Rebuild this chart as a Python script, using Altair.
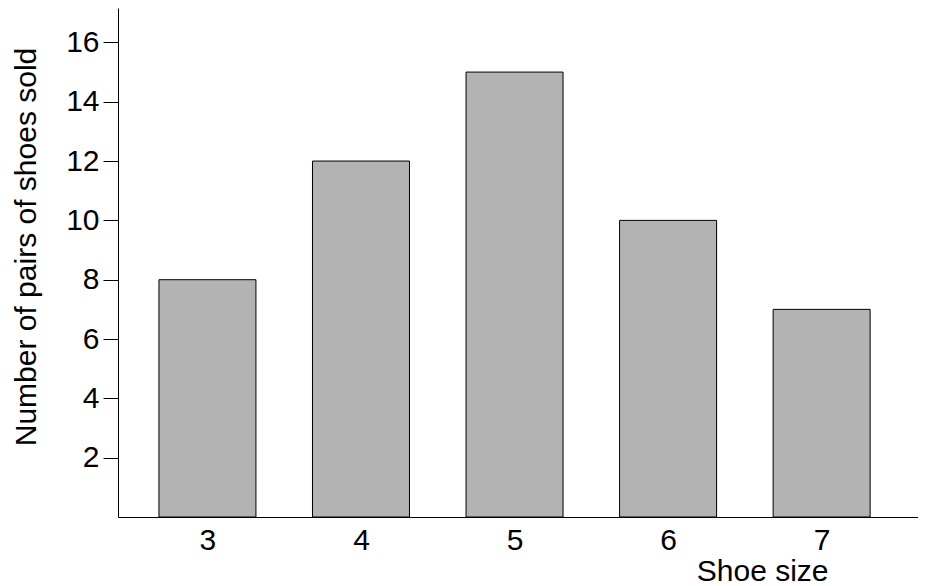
import altair as alt
import pandas as pd

sizes = [3, 4, 5, 6, 7]
pairs_sold = [8, 12, 15, 10, 7]
y_ticks = [2, 4, 6, 8, 10, 12, 14, 16]

df = pd.DataFrame({"size": sizes, "pairs": pairs_sold})

FONT = "Liberation Sans"

chart = alt.Chart(df).mark_bar(
    size=97, color="#b3b3b3", stroke="#000000", strokeWidth=1
).encode(
    x=alt.X("size:Q",
            scale=alt.Scale(domain=[2.45, 7.595], nice=False, zero=False),
            axis=alt.Axis(values=sizes, title="Shoe size", ticks=False,
                          labelPadding=8, labelFontSize=30, labelFont=FONT,
                          labelColor="#000000", domainColor="#000000",
                          titleFontSize=30, titleFont=FONT, titleFontWeight="normal",
                          titleColor="#000000", titleAlign="right",
                          titleAnchor="start", titleX=710, titleY=63,
                          titleBaseline="alphabetic", grid=False, labelFlush=False)),
    y=alt.Y("pairs:Q",
            scale=alt.Scale(domain=[0, 17.16], nice=False),
            axis=alt.Axis(values=y_ticks, title="Number of pairs of shoes sold",
                          tickSize=15, tickColor="#000000", labelPadding=4,
                          labelFontSize=30, labelFont=FONT, labelColor="#000000",
                          domainColor="#000000", titleFontSize=30, titleFont=FONT,
                          titleFontWeight="normal", titleColor="#000000",
                          titleX=-83, titleY=238.5, titleAngle=-90,
                          titleAlign="center", titleBaseline="alphabetic",
                          grid=False)),
).properties(
    width=800, height=509,
    autosize=alt.AutoSizeParams(type="none"),
    padding={"left": 110, "top": 0, "right": 0, "bottom": 69},
).configure_view(stroke=None)

chart.save("out.html", embed_options={"renderer": "svg", "actions": False})
